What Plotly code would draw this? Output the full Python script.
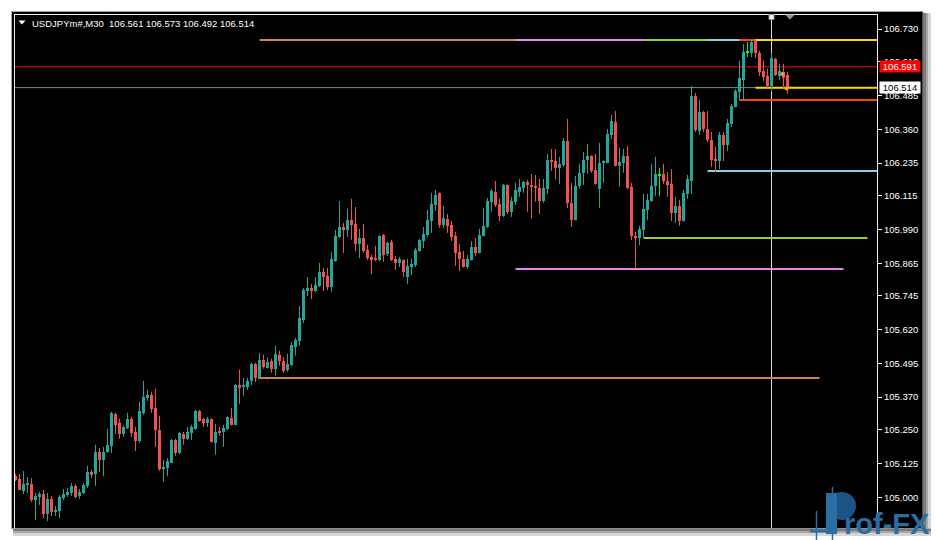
import plotly.graph_objects as go

# ---------------- data (USDJPYm#, M30) ----------------
opens = [
105.079, 105.068, 105.023, 105.046, 105.049, 104.990, 105.001, 105.012, 104.938, 104.994,
104.946, 104.949, 104.997, 105.008, 105.016, 105.042, 105.005, 105.016, 105.042, 105.094,
105.086, 105.168, 105.138, 105.168, 105.190, 105.308, 105.275, 105.234, 105.256, 105.290,
105.242, 105.208, 105.312, 105.367, 105.378, 105.330, 105.249, 105.105, 105.108, 105.127,
105.212, 105.164, 105.234, 105.216, 105.238, 105.253, 105.319, 105.290, 105.275, 105.290,
105.201, 105.245, 105.242, 105.253, 105.293, 105.268, 105.415, 105.408, 105.408, 105.430,
105.493, 105.438, 105.508, 105.478, 105.504, 105.475, 105.527, 105.504, 105.471, 105.490,
105.556, 105.578, 105.655, 105.766, 105.773, 105.762, 105.781, 105.833, 105.818, 105.777,
105.873, 105.962, 105.999, 105.988, 106.025, 106.010, 105.936, 105.958, 105.914, 105.888,
105.884, 105.877, 105.969, 105.899, 105.944, 105.881, 105.866, 105.877, 105.814, 105.851,
105.859, 105.910, 105.947, 105.969, 106.021, 106.081, 106.125, 106.007, 106.029, 106.007,
105.966, 105.907, 105.881, 105.851, 105.877, 105.925, 105.903, 105.966, 105.999, 106.092,
106.129, 106.084, 106.040, 106.154, 106.055, 106.092, 106.129, 106.143, 106.165, 106.154,
106.151, 106.143, 106.095, 106.140, 106.247, 106.243, 106.217, 106.228, 106.317, 106.088,
106.025, 106.151, 106.199, 106.247, 106.262, 106.210, 106.140, 106.236, 106.236, 106.339,
106.387, 106.225, 106.236, 106.262, 106.147, 105.966, 105.958, 105.988, 106.062, 106.095,
106.151, 106.191, 106.195, 106.169, 106.158, 106.051, 106.077, 106.021, 106.121, 106.169,
106.483, 106.354, 106.424, 106.361, 106.321, 106.251, 106.243, 106.339, 106.302, 106.380,
106.443, 106.498, 106.542, 106.646, 106.642, 106.688, 106.642, 106.576, 106.557, 106.520,
106.620, 106.557, 106.572, 106.561]

highs = [
105.086, 105.086, 105.097, 105.075, 105.071, 105.016, 105.020, 105.027, 105.016, 105.005,
104.968, 105.008, 105.031, 105.034, 105.053, 105.049, 105.031, 105.053, 105.116, 105.101,
105.194, 105.182, 105.186, 105.253, 105.316, 105.312, 105.290, 105.268, 105.312, 105.297,
105.260, 105.353, 105.430, 105.397, 105.390, 105.401, 105.301, 105.138, 105.145, 105.216,
105.216, 105.242, 105.242, 105.260, 105.268, 105.323, 105.323, 105.292, 105.297, 105.292,
105.271, 105.260, 105.268, 105.299, 105.330, 105.419, 105.471, 105.441, 105.441, 105.497,
105.497, 105.534, 105.527, 105.516, 105.512, 105.560, 105.541, 105.519, 105.530, 105.574,
105.589, 105.707, 105.773, 105.814, 105.788, 105.814, 105.866, 105.848, 105.848, 105.907,
105.988, 106.095, 106.014, 106.066, 106.103, 106.073, 105.992, 106.010, 105.932, 105.896,
105.929, 105.968, 105.973, 105.944, 105.951, 105.892, 105.888, 105.879, 105.881, 105.881,
105.921, 105.955, 105.999, 106.062, 106.125, 106.136, 106.127, 106.077, 106.047, 106.021,
105.981, 105.936, 105.910, 105.896, 105.947, 105.958, 105.992, 106.069, 106.106, 106.140,
106.169, 106.103, 106.158, 106.156, 106.110, 106.162, 106.176, 106.169, 106.173, 106.195,
106.191, 106.176, 106.176, 106.269, 106.287, 106.287, 106.258, 106.328, 106.398, 106.162,
106.188, 106.232, 106.276, 106.306, 106.264, 106.269, 106.310, 106.245, 106.361, 106.413,
106.428, 106.291, 106.287, 106.298, 106.162, 105.981, 106.003, 106.121, 106.121, 106.232,
106.258, 106.217, 106.232, 106.202, 106.213, 106.110, 106.099, 106.136, 106.191, 106.520,
106.494, 106.468, 106.428, 106.428, 106.350, 106.295, 106.350, 106.350, 106.398, 106.454,
106.509, 106.613, 106.675, 106.683, 106.690, 106.690, 106.650, 106.613, 106.583, 106.642,
106.624, 106.602, 106.602, 106.573]

lows = [
105.060, 105.027, 105.012, 105.016, 104.983, 104.916, 104.972, 104.923, 104.912, 104.931,
104.931, 104.923, 104.990, 105.001, 105.005, 104.997, 104.994, 105.012, 105.034, 105.071,
105.042, 105.094, 105.079, 105.164, 105.164, 105.234, 105.216, 105.223, 105.253, 105.223,
105.171, 105.201, 105.305, 105.356, 105.312, 105.186, 105.097, 105.057, 105.079, 105.127,
105.153, 105.160, 105.194, 105.212, 105.212, 105.249, 105.279, 105.260, 105.260, 105.203,
105.157, 105.227, 105.186, 105.249, 105.266, 105.266, 105.345, 105.375, 105.397, 105.415,
105.426, 105.436, 105.475, 105.476, 105.460, 105.449, 105.486, 105.460, 105.464, 105.486,
105.523, 105.560, 105.644, 105.744, 105.733, 105.759, 105.777, 105.762, 105.766, 105.759,
105.870, 105.958, 105.903, 105.962, 105.951, 105.910, 105.884, 105.903, 105.877, 105.825,
105.873, 105.873, 105.870, 105.892, 105.873, 105.840, 105.851, 105.814, 105.788, 105.822,
105.851, 105.907, 105.921, 105.962, 105.977, 106.058, 105.996, 105.996, 105.977, 105.947,
105.855, 105.836, 105.849, 105.844, 105.875, 105.892, 105.901, 105.964, 105.996, 106.055,
106.073, 106.021, 106.036, 106.047, 106.036, 106.081, 106.110, 106.125, 106.055, 106.029,
106.092, 106.047, 106.088, 106.121, 106.206, 106.176, 106.158, 106.221, 106.069, 105.999,
106.023, 106.140, 106.154, 106.195, 106.199, 106.156, 106.069, 106.162, 106.234, 106.324,
106.223, 106.147, 106.199, 106.140, 105.951, 105.844, 105.932, 105.958, 106.025, 106.092,
106.114, 106.114, 106.158, 106.110, 106.021, 106.014, 106.003, 106.019, 106.103, 106.121,
106.350, 106.339, 106.350, 106.313, 106.221, 106.202, 106.213, 106.243, 106.280, 106.369,
106.441, 106.465, 106.468, 106.627, 106.627, 106.624, 106.557, 106.539, 106.513, 106.498,
106.557, 106.542, 106.509, 106.492]

closes = [
105.064, 105.027, 105.049, 105.053, 104.990, 105.005, 105.012, 104.938, 104.994, 104.946,
104.953, 105.001, 105.012, 105.020, 105.042, 105.001, 105.020, 105.046, 105.094, 105.082,
105.168, 105.138, 105.168, 105.194, 105.312, 105.268, 105.234, 105.260, 105.290, 105.238,
105.208, 105.319, 105.371, 105.378, 105.327, 105.249, 105.105, 105.112, 105.134, 105.212,
105.164, 105.238, 105.216, 105.242, 105.260, 105.319, 105.282, 105.275, 105.290, 105.205,
105.242, 105.238, 105.256, 105.297, 105.268, 105.415, 105.404, 105.415, 105.430, 105.493,
105.441, 105.508, 105.482, 105.501, 105.475, 105.530, 105.504, 105.467, 105.493, 105.563,
105.582, 105.662, 105.766, 105.773, 105.766, 105.784, 105.833, 105.814, 105.777, 105.881,
105.966, 105.999, 105.988, 106.025, 106.007, 105.936, 105.958, 105.910, 105.884, 105.877,
105.877, 105.966, 105.896, 105.940, 105.877, 105.866, 105.881, 105.833, 105.855, 105.862,
105.914, 105.951, 105.973, 106.025, 106.084, 106.118, 106.007, 106.032, 106.003, 105.962,
105.903, 105.881, 105.851, 105.881, 105.925, 105.903, 105.969, 106.003, 106.095, 106.132,
106.081, 106.040, 106.154, 106.055, 106.095, 106.136, 106.147, 106.165, 106.154, 106.147,
106.143, 106.095, 106.143, 106.247, 106.239, 106.217, 106.232, 106.317, 106.088, 106.025,
106.151, 106.199, 106.247, 106.262, 106.206, 106.158, 106.236, 106.243, 106.343, 106.391,
106.225, 106.239, 106.262, 106.143, 105.966, 105.958, 105.992, 106.066, 106.099, 106.151,
106.195, 106.191, 106.169, 106.154, 106.051, 106.077, 106.021, 106.125, 106.176, 106.483,
106.358, 106.424, 106.361, 106.321, 106.247, 106.243, 106.339, 106.302, 106.383, 106.446,
106.502, 106.550, 106.646, 106.646, 106.683, 106.642, 106.572, 106.553, 106.520, 106.624,
106.561, 106.576, 106.550, 106.514]

# horizontal levels (price, first bar, last bar or None = to the axis)
level_prices = [105.441, 105.844, 105.958, 106.206, 106.468, 106.513]
level_start = [61, 125, 157, 173, 181, 185]
level_end = [201, 207, 213, None, None, None]
level_colors = ["#cd853f", "#ee82ee", "#9acd32", "#87ceeb", "#ff4500", "#ffd700"]
top_level = 106.690

ask_price = 106.591
bid_price = 106.514
cursor_bar = 189
marks_x = [191.75, 192.75]
marks_y = [106.564, 106.511]

tick_vals = [106.730, 106.610, 106.485, 106.360, 106.235, 106.115, 105.990, 105.865,
             105.745, 105.620, 105.495, 105.370, 105.250, 105.125, 105.000]
tick_text = ["%.3f" % v for v in tick_vals]

title_text = "USDJPYm#,M30\u00a0\u00a0106.561 106.573 106.492 106.514"

BULL = "#26a69a"
BEAR = "#ef5350"
DOJI = "#00ff00"
FONT = "Liberation Sans, Arial, sans-serif"
LOGO = "#2b6ea3"
LOGO_DARK = "#1d5486"

# ---------------- geometry ----------------
W, H = 936, 540
LM, RM, TM, BM = 14, 59, 14, 12
PW = W - LM - RM
PH = H - TM - BM
X_RANGE = [-0.375, 215.375]
Y_RANGE = [104.8865, 106.786]


def px(x):
    return (x - LM) / PW


def py(y):
    return (H - BM - y) / PH


n = len(opens)
bull = [i for i in range(n) if closes[i] > opens[i]]
bear = [i for i in range(n) if closes[i] < opens[i]]
doji = [i for i in range(n) if closes[i] == opens[i]]

fig = go.Figure()

# level lines (bottom + common top line)
for p, s, e, c in zip(level_prices, level_start, level_end, level_colors):
    end = X_RANGE[1] if e is None else e
    fig.add_trace(go.Scatter(x=[s, end], y=[p, p], mode="lines",
                             line=dict(color=c, width=2), hoverinfo="skip"))
for s, c in zip(level_start, level_colors):
    fig.add_trace(go.Scatter(x=[s, X_RANGE[1]], y=[top_level, top_level], mode="lines",
                             line=dict(color=c, width=2), hoverinfo="skip"))


def wick_xy(ids):
    xs, ys = [], []
    for i in ids:
        xs += [i, i, None]
        ys += [lows[i], highs[i], None]
    return xs, ys


for ids, col in ((bull, BULL), (bear, BEAR), (doji, DOJI)):
    wx, wy = wick_xy(ids)
    fig.add_trace(go.Scatter(x=wx, y=wy, mode="lines", line=dict(color=col, width=1),
                             hoverinfo="skip"))

fig.add_trace(go.Bar(x=bull, y=[closes[i] - opens[i] for i in bull], base=[opens[i] for i in bull],
                     width=0.75, marker=dict(color=BULL, line=dict(width=0))))
fig.add_trace(go.Bar(x=bear, y=[opens[i] - closes[i] for i in bear], base=[closes[i] for i in bear],
                     width=0.75, marker=dict(color=BEAR, line=dict(width=0))))
fig.add_trace(go.Bar(x=doji, y=[0.004 for i in doji], base=[opens[i] - 0.002 for i in doji],
                     width=0.75, marker=dict(color=DOJI, line=dict(width=0))))
fig.add_trace(go.Scatter(x=marks_x, y=marks_y, mode="markers",
                         marker=dict(color="#f39c34", size=4, symbol="circle"), hoverinfo="skip"))

shapes = []
# window frame / background
shapes.append(dict(type="rect", xref="paper", yref="paper", layer="below",
                   x0=px(11.5), x1=px(923), y0=py(528.5), y1=py(11.5),
                   fillcolor="black", line=dict(color="#a0a0a0", width=1)))
for x0, x1, col in ((923, 926, "#7a7a7a"), (926, 928.5, "#a8a8a8"), (928.5, 931, "#d6d6d6")):
    shapes.append(dict(type="rect", xref="paper", yref="paper", layer="below",
                       x0=px(x0), x1=px(x1), y0=py(528.5), y1=py(13),
                       fillcolor=col, line=dict(width=0)))
for y0, y1, col in ((528.5, 531, "#7a7a7a"), (531, 533.5, "#a8a8a8"), (533.5, 536, "#d6d6d6")):
    shapes.append(dict(type="rect", xref="paper", yref="paper", layer="below",
                       x0=px(13), x1=px(931), y0=py(y1), y1=py(y0),
                       fillcolor=col, line=dict(width=0)))
# ask / bid lines
shapes.append(dict(type="line", xref="paper", yref="y", layer="below", x0=0, x1=1,
                   y0=ask_price, y1=ask_price, line=dict(color="#ff0000", width=1)))
shapes.append(dict(type="line", xref="paper", yref="y", layer="below", x0=0, x1=1,
                   y0=bid_price, y1=bid_price, line=dict(color="#778899", width=1)))
# cursor vertical line
shapes.append(dict(type="line", xref="x", yref="paper", layer="below", x0=cursor_bar, x1=cursor_bar,
                   y0=0, y1=1, line=dict(color="#dcdcdc", width=1)))
# chart borders (left, top, axis)
shapes.append(dict(type="line", xref="paper", yref="paper", x0=px(14.5), x1=px(14.5),
                   y0=py(528.5), y1=py(14), line=dict(color="#f0f0f0", width=1)))
shapes.append(dict(type="line", xref="paper", yref="paper", x0=px(14), x1=px(877.5),
                   y0=py(14.5), y1=py(14.5), line=dict(color="#f0f0f0", width=1)))
shapes.append(dict(type="line", xref="paper", yref="paper", x0=px(877.5), x1=px(877.5),
                   y0=py(528.5), y1=py(14), line=dict(color="#f0f0f0", width=1)))
# small chart markers at the top
shapes.append(dict(type="rect", xref="paper", yref="paper", x0=px(769), x1=px(774),
                   y0=py(19.5), y1=py(14.5), fillcolor="#f4f4f4", line=dict(color="#9a9a9a", width=1)))
shapes.append(dict(type="path", xref="paper", yref="paper",
                   path="M %f,%f L %f,%f L %f,%f Z" % (px(785), py(14.5), px(795), py(14.5), px(790), py(19.5)),
                   fillcolor="#8a96a3", line=dict(width=0)))
shapes.append(dict(type="path", xref="paper", yref="paper",
                   path="M %f,%f L %f,%f L %f,%f Z" % (px(18.5), py(20.5), px(25.5), py(20.5), px(22), py(24.5)),
                   fillcolor="white", line=dict(width=0)))
# watermark logo: small candle marks + stylised "P"
shapes.append(dict(type="line", xref="paper", yref="paper", x0=px(816.5), x1=px(816.5),
                   y0=py(540), y1=py(511), line=dict(color=LOGO, width=1.5)))
shapes.append(dict(type="line", xref="paper", yref="paper", x0=px(810), x1=px(827),
                   y0=py(531), y1=py(531), line=dict(color=LOGO, width=3)))
shapes.append(dict(type="path", xref="paper", yref="paper",
                   path="M %f,%f L %f,%f A 1 1 0 0 1 %f,%f Z" % (
                       px(830), py(493), px(838), py(493), px(838), py(519)),
                   fillcolor=LOGO_DARK, line=dict(width=0)))
shapes.append(dict(type="circle", xref="paper", yref="paper",
                   x0=px(828), x1=px(856), y0=py(520), y1=py(492),
                   fillcolor=LOGO_DARK, line=dict(width=0)))
shapes.append(dict(type="rect", xref="paper", yref="paper",
                   x0=px(826), x1=px(837), y0=py(534), y1=py(493),
                   fillcolor=LOGO, line=dict(width=0)))
shapes.append(dict(type="line", xref="paper", yref="paper", x0=px(832.5), x1=px(832.5),
                   y0=py(540), y1=py(487), line=dict(color=LOGO, width=1.5)))

annotations = [
    dict(xref="paper", yref="paper", x=px(30), y=py(23), xanchor="left", yanchor="middle",
         text=title_text, showarrow=False, font=dict(color="white", size=9.5, family=FONT)),
    dict(xref="paper", yref="y", x=px(878.5), y=ask_price, xanchor="left", yanchor="middle",
         text="%.3f" % ask_price, showarrow=False, bgcolor="#ff0000", borderpad=1, width=38, height=9,
         font=dict(color="white", size=9.5, family=FONT)),
    dict(xref="paper", yref="y", x=px(878.5), y=bid_price, xanchor="left", yanchor="middle",
         text="%.3f" % bid_price, showarrow=False, bgcolor="#ffffff", borderpad=1, width=38, height=9,
         font=dict(color="black", size=9.5, family=FONT)),
    dict(xref="paper", yref="paper", x=px(842), y=py(523.5), xanchor="left", yanchor="middle",
         text="<b>rof-FX</b>", showarrow=False,
         font=dict(color=LOGO, size=29, family=FONT)),
]

fig.update_layout(
    width=W, height=H,
    margin=dict(l=LM, r=RM, t=TM, b=BM, pad=0),
    paper_bgcolor="white", plot_bgcolor="black",
    barmode="overlay", bargap=0,
    showlegend=False,
    shapes=shapes, annotations=annotations,
    xaxis=dict(range=X_RANGE, visible=False, fixedrange=True),
    yaxis=dict(range=Y_RANGE, side="right", tickvals=tick_vals, ticktext=tick_text,
               ticks="outside", ticklen=4, tickwidth=1, tickcolor="white",
               tickfont=dict(color="white", size=9.5, family=FONT),
               showgrid=False, zeroline=False, showline=False, fixedrange=True),
)

fig.write_html("out.html", config={"displayModeBar": False},
               post_script="document.body.style.margin='0px';document.body.style.overflow='hidden';")
